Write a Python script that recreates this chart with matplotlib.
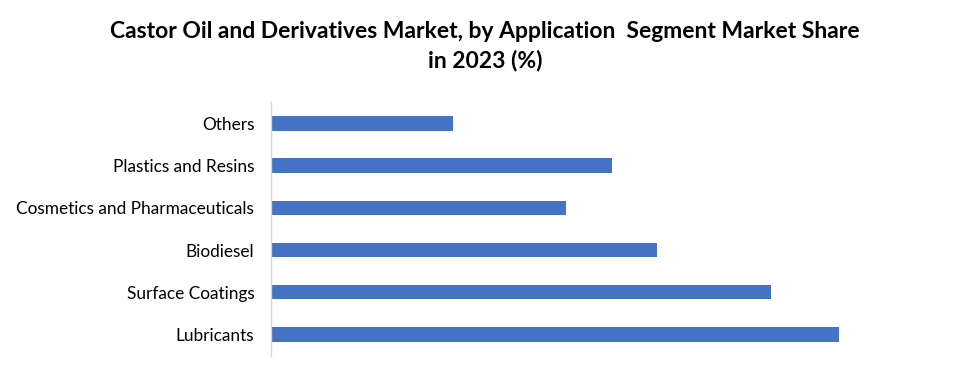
import matplotlib
matplotlib.use("Agg")
import matplotlib.pyplot as plt

categories = ["Lubricants", "Surface Coatings", "Biodiesel",
              "Cosmetics and Pharmaceuticals", "Plastics and Resins", "Others"]
shares = [25, 22, 17, 13, 15, 8]

plt.rcParams['font.family'] = ['Lato', 'DejaVu Sans']

fig = plt.figure(figsize=(9.75, 3.79), dpi=100)
W, H = 975, 379
left, right = 271, 907
top, bottom = 102.2, 355.6
ax = fig.add_axes([left / W, 1 - bottom / H, (right - left) / W, (bottom - top) / H])

y = list(range(len(categories)))
ax.barh(y, shares, height=0.343, color="#4472C4")
ax.set_ylim(-0.5, len(categories) - 0.5)
ax.set_xlim(0, 28)
ax.set_yticks(y)
ax.set_yticklabels(categories, fontsize=12.4, color="#000000")
ax.tick_params(axis='y', length=0, pad=12)
ax.set_xticks([])
for s in ["top", "right", "bottom"]:
    ax.spines[s].set_visible(False)
ax.spines["left"].set_color("#D9D9D9")
ax.spines["left"].set_linewidth(1)

fig.text(485 / W, 1 - 46 / H,
         "Castor Oil and Derivatives Market, by Application  Segment Market Share\nin 2023 (%)",
         ha="center", va="center", fontsize=16.5, fontweight="bold", linespacing=1.4)

fig.savefig("out.png", dpi=100)
